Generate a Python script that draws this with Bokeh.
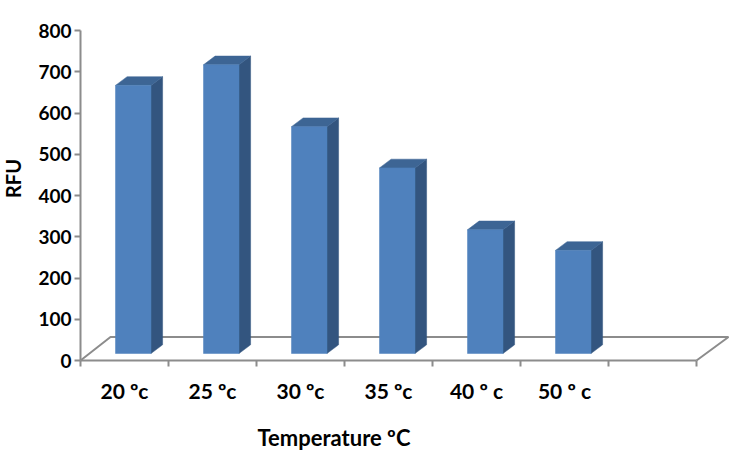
from bokeh.plotting import figure
from bokeh.models import LinearAxis, FixedTicker, Range1d, Label
from bokeh.embed import file_html
from bokeh.resources import INLINE

categories = ["20 ºc", "25 ºc", "30 ºc", "35 ºc", "40 º c", "50 º c"]
rfu = [650, 700, 550, 450, 300, 250]
y_ticks = [0, 100, 200, 300, 400, 500, 600, 700, 800]
slots = 7

FRONT, SIDE, TOP = "#4f81bd", "#33557f", "#3d6594"
GREY = "#8c8c8c"
FONT = "Lato"

PX = 1 / 88.0
PY = 1 / 0.4125

# the frame fills the whole canvas; axes are pinned at x=0 and y=0 inside it
p = figure(width=733, height=450, output_backend="svg", toolbar_location=None,
           x_range=Range1d(-80 * PX, 653 * PX), y_range=Range1d(-90 * PY, 360 * PY),
           min_border_left=0, min_border_right=0, min_border_top=0, min_border_bottom=0,
           outline_line_color=None, background_fill_color=None, border_fill_color="white",
           x_axis_type=None, y_axis_type=None)
p.grid.visible = False

dx_f, dy_f = 30 * PX, 23.5 * PY
dx_r = 32 * PX
p.line([0, dx_f, 7 + dx_r, 7], [0, dy_f, dy_f, 0], line_color=GREY, line_width=2)

off, bw = 35 * PX, 35.5 * PX
base = 7 * PY
dx, dy = 11.6 * PX, 8.7 * PY
lefts = [i + off for i in range(len(rfu))]
rights = [l + bw for l in lefts]
bottoms = [base] * len(rfu)
tops = [base + v for v in rfu]

p.patches([[r, r + dx, r + dx, r] for r in rights],
          [[b, b + dy, t + dy, t] for b, t in zip(bottoms, tops)],
          fill_color=SIDE, line_color=SIDE, line_width=0.5)
p.patches([[l, l + dx, r + dx, r] for l, r in zip(lefts, rights)],
          [[t, t + dy, t + dy, t] for t in tops],
          fill_color=TOP, line_color=TOP, line_width=0.5)
p.quad(left=lefts, right=rights, bottom=bottoms, top=tops,
       fill_color=FRONT, line_color=FRONT, line_width=0.5)

yax = LinearAxis(ticker=FixedTicker(ticks=y_ticks), bounds=(0, 800), fixed_location=0,
                 axis_line_color=GREY, axis_line_width=2,
                 major_tick_line_color=GREY, major_tick_line_width=2,
                 major_tick_out=6, major_tick_in=0, minor_tick_line_color=None,
                 major_label_text_font=FONT, major_label_text_font_style="bold",
                 major_label_text_font_size="19px", major_label_text_color="black",
                 major_label_standoff=3)
p.add_layout(yax, "left")

xax = LinearAxis(ticker=FixedTicker(ticks=list(range(slots + 1))), bounds=(0, slots), fixed_location=0,
                 axis_line_color=GREY, axis_line_width=2,
                 major_tick_line_color=GREY, major_tick_line_width=2,
                 major_tick_out=6, major_tick_in=0, minor_tick_line_color=None,
                 major_label_text_color=None, major_label_text_font_size="1px",
                 major_label_standoff=0)
p.add_layout(xax, "below")

cat_pos = [i + 0.5 for i in range(len(categories))]
lab = LinearAxis(ticker=FixedTicker(ticks=cat_pos), fixed_location=0,
                 major_label_overrides={c: t for c, t in zip(cat_pos, categories)},
                 axis_line_color=None, major_tick_line_color=None, minor_tick_line_color=None,
                 major_tick_out=0, major_tick_in=0,
                 major_label_text_font=FONT, major_label_text_font_style="bold",
                 major_label_text_font_size="21px", major_label_text_color="black",
                 major_label_standoff=17)
p.add_layout(lab, "below")

p.add_layout(Label(x=257, y=13, x_units="screen", y_units="screen", text="Temperature ºC",
                   text_font=FONT, text_font_style="bold", text_font_size="22px",
                   text_color="black", text_baseline="middle"))
p.add_layout(Label(x=12, y=272, x_units="screen", y_units="screen", text="RFU", angle=90,
                   angle_units="deg", text_align="center", text_baseline="middle",
                   text_font=FONT, text_font_style="bold", text_font_size="20px",
                   text_color="black"))

open("out.html", "w").write(file_html(p, INLINE))
